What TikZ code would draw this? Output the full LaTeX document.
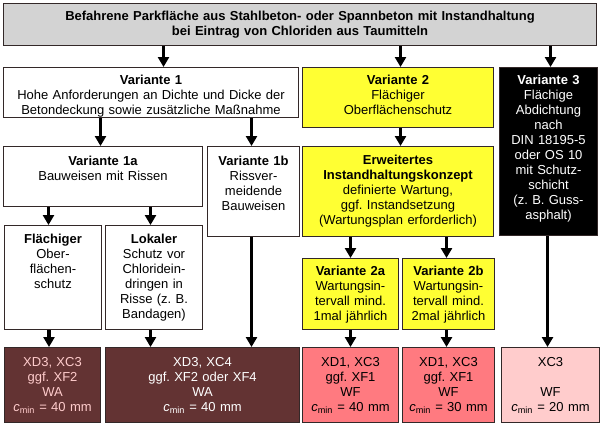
\documentclass[tikz,border=0pt]{standalone}
\usepackage{fontspec}
\setmainfont{Liberation Sans}
\usetikzlibrary{positioning,arrows.meta}
\definecolor{boxline}{RGB}{51,40,40}
\definecolor{parkgray}{RGB}{211,211,211}
\definecolor{schutzgelb}{RGB}{255,255,51}
\definecolor{dunkelrot}{RGB}{99,51,51}
\definecolor{rosa}{RGB}{255,122,128}
\definecolor{hellrosa}{RGB}{255,204,204}
\newcommand{\cmin}{\textit{c}\textsubscript{min}}
\frenchspacing

\begin{document}
\begin{tikzpicture}[x=1bp,y=-1bp,>={Triangle[width=11bp,length=10bp]},
    every node/.style={font=\fontsize{13bp}{15bp}\selectfont},
    box/.style 2 args={draw=boxline,line width=1bp,anchor=north west,inner sep=0pt,align=center,text height=17bp,text width=#1,text depth=#2},
    arr/.style={->,line width=3.5bp}]

\fill[white] (0,0) rectangle (600,427);
\useasboundingbox (0,0) rectangle (600,427);

\node[box={593bp}{25bp},fill=parkgray] (top)  at (3,3)  {\textbf{Befahrene Parkfläche aus Stahlbeton- oder Spannbeton mit Instandhaltung}\\\textbf{bei Eintrag von Chloriden aus Taumitteln}};
\node[box={295bp}{33bp}]                 (v1)   at (3,67) {\textbf{Variante 1}\\Hohe Anforderungen an Dichte und Dicke der\\Betondeckung sowie zusätzliche Maßnahme};
\node[box={191bp}{43bp},fill=schutzgelb] (v2)   at (302,67) {\textbf{Variante 2}\\Flächiger\\Oberflächenschutz};
\node[box={98bp}{151bp},fill=black,text=white] (v3) at (499,67) {\textbf{Variante 3}\\Flächige\\Abdichtung\\nach\\DIN 18195-5\\oder OS 10\\mit Schutz-\\schicht\\(z. B. Guss-\\asphalt)};

\node[box={199bp}{41bp},text height=19bp] (v1a) [below=28bp of v1.south west,anchor=north west] {\textbf{Variante 1a}\\Bauweisen mit Rissen};
\node[box={92bp}{71bp},text height=19bp]  (v1b) [right=4bp of v1a.north east,anchor=north west] {\textbf{Variante 1b}\\Rissver-\\meidende\\Bauweisen};
\node[box={191bp}{72bp},text height=18bp,fill=schutzgelb] (erw) [below=18bp of v2.south west,anchor=north west] {\textbf{Erweitertes}\\\textbf{Instandhaltungskonzept}\\definierte Wartung,\\ggf. Instandsetzung\\(Wartungsplan erforderlich)};

\node[box={97bp}{86bp},text height=18bp] (fl)  at (4,225) {\textbf{Flächiger}\\Ober-\\flächen-\\schutz};
\node[box={97bp}{86bp},text height=18bp] (lok) [right=3bp of fl.north east,anchor=north west] {\textbf{Lokaler}\\Schutz vor\\Chloridein-\\dringen in\\Risse (z. B.\\Bandagen)};
\node[box={96bp}{54bp},fill=schutzgelb]  (v2a) at (302,258) {\textbf{Variante 2a}\\Wartungsin-\\tervall mind.\\1mal jährlich};
\node[box={92bp}{54bp},fill=schutzgelb]  (v2b) [right=3bp of v2a.north east,anchor=north west] {\textbf{Variante 2b}\\Wartungsin-\\tervall mind.\\2mal jährlich};

% Expositionsklassen
\node[box={96bp}{56bp},text height=19bp,fill=dunkelrot,text=hellrosa] (r1) at (4,347) {XD3, XC3\\ggf. XF2\\WA\\\cmin{} = 40 mm};
\node[box={194bp}{56bp},text height=19bp,fill=dunkelrot,text=white]   (r2) [right=4bp of r1.north east,anchor=north west] {XD3, XC4\\ggf. XF2 oder XF4\\WA\\\cmin{} = 40 mm};
\node[box={96bp}{56bp},text height=19bp,fill=rosa]     (r3) at (302,347) {XD1, XC3\\ggf. XF1\\WF\\\cmin{} = 40 mm};
\node[box={92bp}{56bp},text height=19bp,fill=rosa]     (r4) [right=3bp of r3.north east,anchor=north west] {XD1, XC3\\ggf. XF1\\WF\\\cmin{} = 30 mm};
\node[box={98bp}{56bp},text height=19bp,fill=hellrosa] (r5) [right=6bp of r4.north east,anchor=north west] {XC3\\\mbox{}\\WF\\\cmin{} = 20 mm};

\draw[arr] ([xshift=12.5bp]v1.north |- top.south) -- ([xshift=12.5bp]v1.north);
\draw[arr] ([xshift=2.5bp]v2.north |- top.south) -- ([xshift=2.5bp]v2.north);
\draw[arr] ([xshift=2bp]v3.north |- top.south) -- ([xshift=2bp]v3.north);
\draw[arr] ([xshift=-2.5bp]v1a.north |- v1.south) -- ([xshift=-2.5bp]v1a.north);
\draw[arr] ([xshift=-2bp]v1b.north |- v1.south) -- ([xshift=-2bp]v1b.north);
\draw[arr] ([xshift=2.5bp]erw.north |- v2.south) -- ([xshift=2.5bp]erw.north);
\draw[arr] ([xshift=-4.5bp]fl.north |- v1a.south) -- ([xshift=-4.5bp]fl.north);
\draw[arr] ([xshift=-3.5bp]lok.north |- v1a.south) -- ([xshift=-3.5bp]lok.north);
\draw[arr] (v2a.north |- erw.south) -- (v2a.north);
\draw[arr] ([xshift=-2bp]v2b.north |- erw.south) -- ([xshift=-2bp]v2b.north);
\draw[arr] ([xshift=-4bp]fl.south) -- ([xshift=-4bp]fl.south |- r1.north);
\draw[arr] ([xshift=-3.5bp]lok.south) -- ([xshift=-3.5bp]lok.south |- r2.north);
\draw[arr] ([xshift=-2bp]v1b.south) -- ([xshift=-2bp]v1b.south |- r2.north);
\draw[arr] (v2a.south) -- (v2a.south |- r3.north);
\draw[arr] ([xshift=-2bp]v2b.south) -- ([xshift=-2bp]v2b.south |- r4.north);
\draw[arr] ([xshift=-1bp]v3.south) -- ([xshift=-1bp]v3.south |- r5.north);
\end{tikzpicture}
\end{document}
